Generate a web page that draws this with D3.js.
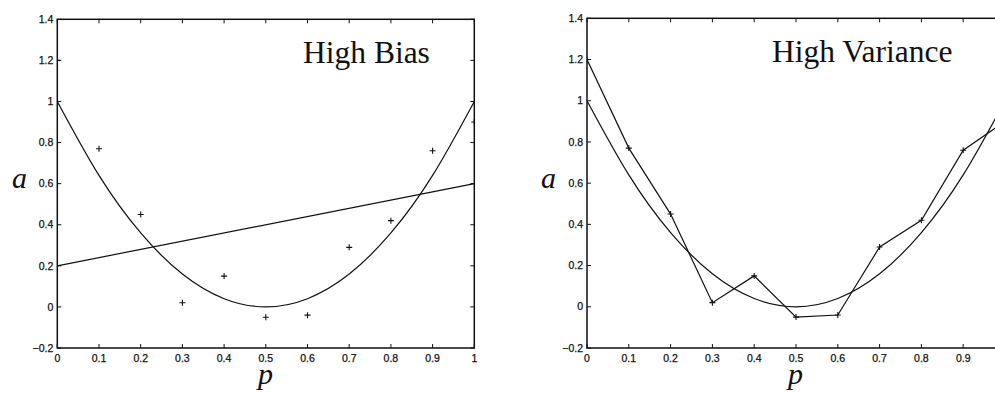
<!DOCTYPE html>
<html><head><meta charset="utf-8">
<script src="https://cdn.jsdelivr.net/npm/d3@7"></script>
<style>
html,body{margin:0;padding:0;background:#fff;}
svg{display:block;}
</style></head>
<body>
<script>
// ---- data ----
const pTicks = [0,0.1,0.2,0.3,0.4,0.5,0.6,0.7,0.8,0.9,1];
const aTicks = [-0.2,0,0.2,0.4,0.6,0.8,1,1.2,1.4];
const sampleP = [0,0.1,0.2,0.3,0.4,0.5,0.6,0.7,0.8,0.9,1.0];
const sampleA = [1.2,0.77,0.45,0.02,0.15,-0.05,-0.04,0.29,0.42,0.76,0.9];
const trueP = [0,0.1,0.2,0.3,0.4,0.5,0.6,0.7,0.8,0.9,1.0];
const trueA = [1,0.64,0.36,0.16,0.04,0,0.04,0.16,0.36,0.64,1];
const biasLineP = [0,1];
const biasLineA = [0.2,0.6];
const titles = ["High Bias","High Variance"];

const W = 995, H = 393;
const svg = d3.select("body").append("svg").attr("width",W).attr("height",H);
svg.append("rect").attr("width",W).attr("height",H).attr("fill","#fff");

const panels = [
  {x0:57.3, x1:474.3, y0:19.3, y1:348, title:titles[0], tx:303, ty:63, ax:12, px:258, mode:"bias"},
  {x0:587, x1:1005, y0:18.3, y1:348, title:titles[1], tx:772, ty:62, ax:541, px:788, mode:"var"}
];

const fmt = v => (v<0? "\u2212" : "") + String(Math.abs(Math.round(v*10)/10));

panels.forEach((P,i)=>{
  const x = d3.scaleLinear().domain([0,1]).range([P.x0,P.x1]);
  const y = d3.scaleLinear().domain([-0.2,1.4]).range([P.y1,P.y0]);
  const g = svg.append("g");
  const cid = "clip"+i;
  svg.append("clipPath").attr("id",cid).append("rect")
    .attr("x",P.x0).attr("y",P.y0).attr("width",P.x1-P.x0).attr("height",P.y1-P.y0);
  const dg = g.append("g").attr("clip-path",`url(#${cid})`);

  const line = d3.line().x(d=>x(d[0])).y(d=>y(d[1]));
  // true curve
  dg.append("path").datum(trueP.map((p,k)=>[p,trueA[k]]))
    .attr("d", line.curve(d3.curveNatural)).attr("fill","none")
    .attr("stroke","#111").attr("stroke-width",1.2);
  if (P.mode==="bias") {
    dg.append("path").datum(biasLineP.map((p,k)=>[p,biasLineA[k]]))
      .attr("d", d3.line().x(d=>x(d[0])).y(d=>y(d[1]))).attr("fill","none")
      .attr("stroke","#111").attr("stroke-width",1.2);
  } else {
    dg.append("path").datum(sampleP.map((p,k)=>[p,sampleA[k]]))
      .attr("d", d3.line().x(d=>x(d[0])).y(d=>y(d[1]))).attr("fill","none")
      .attr("stroke","#111").attr("stroke-width",1.2);
  }
  // markers
  const m = 3;
  sampleP.forEach((p,k)=>{
    const cx = x(p), cy = y(sampleA[k]);
    dg.append("path").attr("d",`M${cx-m},${cy}H${cx+m}M${cx},${cy-m}V${cy+m}`)
      .attr("stroke","#111").attr("stroke-width",1.1);
  });

  // axes frame
  g.append("rect").attr("x",P.x0).attr("y",P.y0).attr("width",P.x1-P.x0).attr("height",P.y1-P.y0)
    .attr("fill","none").attr("stroke","#111").attr("stroke-width",1.5);
  const tl = 4;
  pTicks.forEach(t=>{
    const tx = x(t);
    g.append("line").attr("x1",tx).attr("x2",tx).attr("y1",P.y1).attr("y2",P.y1-tl).attr("stroke","#111");
    g.append("line").attr("x1",tx).attr("x2",tx).attr("y1",P.y0).attr("y2",P.y0+tl).attr("stroke","#111");
    if (tx < W - 4) {
      g.append("text").attr("x",tx).attr("y",362).attr("text-anchor","middle")
        .attr("font-family","Liberation Sans, Arial, sans-serif").attr("font-size",10.5)
        .attr("fill","#111").attr("stroke","#111").attr("stroke-width",0.25).text(fmt(t));
    }
  });
  aTicks.forEach(t=>{
    const ty = y(t);
    g.append("line").attr("x1",P.x0).attr("x2",P.x0+tl).attr("y1",ty).attr("y2",ty).attr("stroke","#111");
    g.append("line").attr("x1",P.x1).attr("x2",P.x1-tl).attr("y1",ty).attr("y2",ty).attr("stroke","#111");
    g.append("text").attr("x",P.x0-4).attr("y",ty).attr("dy","0.35em").attr("text-anchor","end")
      .attr("font-family","Liberation Sans, Arial, sans-serif").attr("font-size",10.5)
      .attr("fill","#111").attr("stroke","#111").attr("stroke-width",0.25).text(fmt(t));
  });

  // titles & labels
  g.append("text").attr("x",P.tx).attr("y",P.ty)
    .attr("font-family","Liberation Serif, Times New Roman, serif").attr("font-size",31.5)
    .attr("fill","#111").text(P.title);
  g.append("text").attr("x",P.ax).attr("y",188)
    .attr("font-family","Liberation Serif, Times New Roman, serif").attr("font-style","italic")
    .attr("font-size",30).attr("fill","#111").text("a");
  g.append("text").attr("x",P.px).attr("y",384)
    .attr("font-family","Liberation Serif, Times New Roman, serif").attr("font-style","italic")
    .attr("font-size",30).attr("fill","#111").text("p");
});
</script>
</body></html>
